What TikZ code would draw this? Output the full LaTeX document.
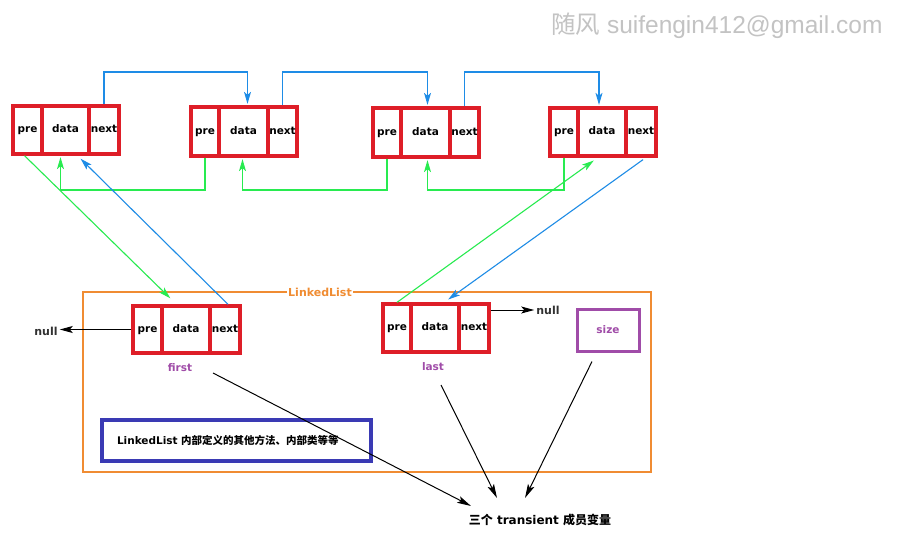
\documentclass[tikz,border=0pt]{standalone}
\usepackage{fontspec}
\setmainfont{DejaVu Sans}
\newfontfamily\cjk{Noto Sans CJK SC}
\newfontfamily\wmfont{Liberation Sans}
\usetikzlibrary{arrows.meta,calc}
\definecolor{llred}{RGB}{222,30,40}
\definecolor{arrblue}{RGB}{30,140,230}
\definecolor{arrgreen}{RGB}{40,235,80}
\definecolor{llorange}{RGB}{240,140,50}
\definecolor{llpurple}{RGB}{160,76,168}
\definecolor{boxblue}{RGB}{58,58,180}
\definecolor{nullgray}{RGB}{50,50,50}
\definecolor{wmgray}{RGB}{195,195,195}
\newcommand\llcell[6]{%
  \node[cell, minimum width={(#3-#2)*1pt}, minimum height={(#5-#4)*1pt}] (#1) at ({(#2+#3)/2},{(#4+#5)/2}) {#6};}
\newcommand\lltriple[7]{%
  \llcell{#1p}{#2}{#3}{#6}{#7}{pre}%
  \llcell{#1d}{#3}{#4}{#6}{#7}{data}%
  \llcell{#1n}{#4}{#5}{#6}{#7}{next}}
\tikzset{
  cell/.style={draw=llred, line width=3.3pt, inner sep=0pt, text height=7.5pt, text depth=2pt, font=\bfseries\fontsize{10.5}{12}\selectfont},
  bluearr/.style={draw=arrblue, line width=1.1pt, -{Stealth[length=12pt,width=7pt,inset=3pt]}, shorten >=1.5pt},
  greenarr/.style={draw=arrgreen, line width=1.1pt, -{Stealth[length=12pt,width=7pt,inset=3pt]}, shorten >=1.5pt},
  blackarr/.style={draw=black, line width=1pt, -{Stealth[length=14pt,width=7pt,inset=3pt]}},
  nullarr/.style={draw=black, line width=1pt, -{Stealth[length=13pt,width=7pt,inset=3pt]}},
  purplelbl/.style={text=llpurple, font=\bfseries\fontsize{10.5}{12}\selectfont, inner sep=0pt},
  nulllbl/.style={text=nullgray, font=\bfseries\fontsize{11}{13}\selectfont, inner sep=2pt},
}
\begin{document}
\begin{tikzpicture}[x=1pt,y=-1pt]
\useasboundingbox[fill=white] (0,0) rectangle (898,552);
% watermark
\node[anchor=base west, inner sep=0pt, text=wmgray, font=\wmfont\fontsize{24.5}{28}\selectfont] (wm) at (551,33) {{\cjk 随风} suifengin412@gmail.com};
% top list nodes
\lltriple{a}{13}{42}{89}{119}{106}{154}
\lltriple{b}{191}{219}{268}{297}{107}{156}
\lltriple{c}{373}{401}{450}{479}{108}{157}
\lltriple{e}{550}{578}{626}{656}{108}{156}
% LinkedList container
\node[draw=llorange, line width=1.3pt, minimum width=568pt, minimum height=180pt, inner sep=0pt] (llbox) at (367,382) {};
\node[fill=white, inner sep=1pt, text=llorange, font=\bfseries\fontsize{11}{13}\selectfont] (lltitle) at (320,292) {LinkedList};
\lltriple{f}{133}{162}{210}{240}{306}{353}
\lltriple{l}{383}{411}{459}{489}{304}{352}
\node[draw=llpurple, line width=3pt, minimum width=62pt, minimum height=42pt, purplelbl] (sizebox) at (608,330) {size};
\node[purplelbl] (firstlbl) at (180,368) {first};
\node[purplelbl] (lastlbl) at (433,367) {last};
\node[nulllbl] (nullL) at (46,331) {null};
\node[nulllbl] (nullR) at (548,310) {null};
\node[draw=boxblue, line width=3.2pt, minimum height=41pt, text width=239pt, inner xsep=15pt, align=left, font=\bfseries\fontsize{10.5}{12}\selectfont] (other) at (236.5,440.5) {LinkedList {\cjk\bfseries 内部定义的其他方法、内部类等等}};
\node[inner sep=2pt, font=\bfseries\fontsize{12}{14}\selectfont] (bot) at (540,520) {{\cjk\bfseries 三个} transient {\cjk\bfseries 成员变量}};
% next links (blue)
\coordinate (btop) at (0,72);
\coordinate (gbot) at (0,190);
\draw[bluearr] (an.north) -- (an.north |- btop) -| ([xshift=4pt]bd.north);
\draw[bluearr] (bn.north) -- (bn.north |- btop) -| ([xshift=2pt]cd.north);
\draw[bluearr] (cn.north) -- (cn.north |- btop) -| ([xshift=-3pt]ed.north);
% pre links (green)
\draw[greenarr] (bp.south) -- (bp.south |- gbot) -| ([xshift=-5pt]ad.south);
\draw[greenarr] (cp.south) -- (cp.south |- gbot) -| ([xshift=-1pt]bd.south);
\draw[greenarr] (ep.south) -- (ep.south |- gbot) -| ([xshift=2pt]cd.south);
% first / last links
\draw[greenarr] ([xshift=-3pt]ap.south) -- ([xshift=11pt,yshift=5pt]fd.north west);
\draw[bluearr] ([xshift=3pt]fn.north) -- ([xshift=14pt,yshift=-2pt]ad.south);
\draw[greenarr] (lp.north) -- ([xshift=-7pt,yshift=-2pt]ed.south);
\draw[bluearr] ([xshift=2pt,yshift=-2pt]en.south) -- ([xshift=12pt,yshift=2pt]ld.north);
% null links
\draw[nullarr] (fp.west) -- (fp.west -| nullL.east);
\draw[nullarr] (ln.east |- nullR.west) -- (nullR.west);
% transient arrows
\draw[blackarr] ($(firstlbl.center)+(33,5)$) -- ($(bot.center)+(-69,-14)$);
\draw[blackarr] ($(lastlbl.center)+(8,18)$) -- ($(bot.center)+(-43,-22)$);
\draw[blackarr] ($(sizebox.south)+(-16,9)$) -- ($(bot.center)+(-15,-22)$);
\end{tikzpicture}
\end{document}
